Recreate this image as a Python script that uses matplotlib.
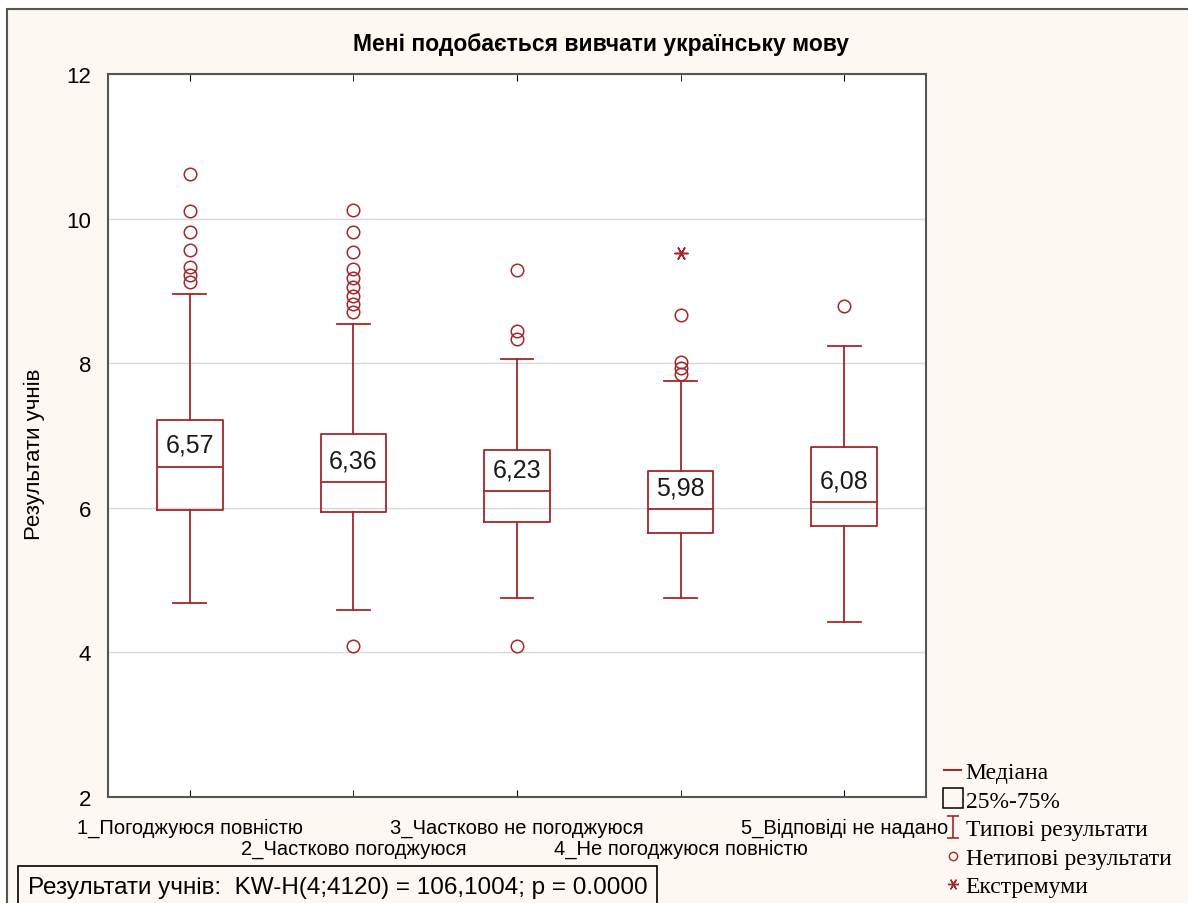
import matplotlib
matplotlib.use("Agg")
import matplotlib.pyplot as plt
from matplotlib.lines import Line2D
from matplotlib.patches import Rectangle
from matplotlib.path import Path

plt.rcParams['font.family'] = ['Liberation Sans', 'DejaVu Sans']

# дані
groups = ["1_Погоджуюся повністю", "2_Частково погоджуюся", "3_Частково не погоджуюся",
          "4_Не погоджуюся повністю", "5_Відповіді не надано"]
medians = [6.57, 6.36, 6.23, 5.98, 6.08]
q1 = [5.97, 5.94, 5.80, 5.65, 5.75]
q3 = [7.21, 7.02, 6.80, 6.51, 6.84]
whisk_lo = [4.68, 4.59, 4.75, 4.75, 4.42]
whisk_hi = [8.96, 8.54, 8.06, 7.75, 8.24]
outliers = [[10.62, 10.11, 9.81, 9.57, 9.33, 9.22, 9.12],
            [10.12, 9.81, 9.54, 9.30, 9.18, 9.05, 8.93, 8.82, 8.71, 4.09],
            [9.29, 8.45, 8.33, 4.09],
            [8.67, 8.02, 7.93, 7.85],
            [8.79]]
extremes = [[], [], [], [9.52], []]
yticks = [2, 4, 6, 8, 10, 12]

title = "Мені подобається вивчати українську мову"
ylabel = "Результати учнів"
stat_text = "Результати учнів:  KW-H(4;4120) = 106,1004; p = 0.0000"
legend_labels = ["Медіана", "25%-75%", "Типові результати", "Нетипові результати", "Екстремуми"]

red = '#a3262b'
cream = '#fdf9f2'

fig = plt.figure(figsize=(11.88, 9.04), dpi=100, facecolor='white')
# зовнішня рамка
fig.add_artist(Rectangle((7 / 1188, -0.1), 1.2, 1.1 - 10 / 904, transform=fig.transFigure,
                         facecolor=cream, edgecolor='#555555', lw=1.5, zorder=-10))

ax = fig.add_axes([108 / 1188, 106 / 904, 818 / 1188, 723 / 904])
ax.set_facecolor('white')

stats = []
for i in range(len(groups)):
    stats.append(dict(med=medians[i], q1=q1[i], q3=q3[i], whislo=whisk_lo[i],
                      whishi=whisk_hi[i], fliers=outliers[i]))

pos = list(range(1, len(groups) + 1))
ax.bxp(stats, positions=pos, widths=0.4, capwidths=0.2, showfliers=True,
       boxprops=dict(color=red, lw=1.3),
       medianprops=dict(color=red, lw=1.3),
       whiskerprops=dict(color=red, lw=1.3),
       capprops=dict(color=red, lw=1.3),
       flierprops=dict(marker='o', markerfacecolor='none', markeredgecolor=red,
                       markersize=9, markeredgewidth=1.1))

for i, ex in enumerate(extremes):
    if ex:
        ax.plot([pos[i]] * len(ex), ex, linestyle='none', marker=(6, 2, 90),
                color=red, markersize=10, markeredgewidth=1.1)

for i, m in enumerate(medians):
    ax.text(pos[i], m + 0.3, f"{m:.2f}".replace('.', ','), ha='center', va='center',
            fontsize=18, color='#1a1a1a')

ax.set_xlim(0.5, 5.5)
ax.set_ylim(2, 12)
ax.set_yticks(yticks)
ax.set_yticklabels([str(v) for v in yticks], fontsize=16)
# підписи категорій у два ряди
ax.set_xticks(pos[0::2])
ax.set_xticklabels(groups[0::2], fontsize=14.5)
ax.set_xticks(pos[1::2], minor=True)
ax.set_xticklabels(groups[1::2], minor=True, fontsize=14.5)
ax.tick_params(axis='x', which='both', direction='in', top=True, length=5)
ax.tick_params(axis='x', which='major', pad=15)
ax.tick_params(axis='x', which='minor', pad=30)
ax.tick_params(axis='y', direction='in', length=0, pad=12)
ax.yaxis.grid(True, color='#d9d9d9', lw=1)
ax.set_axisbelow(True)
for s in ax.spines.values():
    s.set_color('#555555')
    s.set_linewidth(1.5)

ax.set_ylabel(ylabel, fontsize=16)
ax.yaxis.set_label_coords(-0.077, 0.475)
fig.text(601 / 1188, 1 - 45 / 904, title, ha='center', va='center', fontsize=16.5, fontweight='bold')

fig.text(28 / 1188, 1 - 888 / 904, stat_text, ha='left', va='center', fontsize=17.5,
         bbox=dict(boxstyle='square,pad=0.4', facecolor=cream, edgecolor='black', lw=1.2))

# легенда
ibeam = Path([(-0.5, 1), (0.5, 1), (0, 1), (0, -1), (-0.5, -1), (0.5, -1)],
             [Path.MOVETO, Path.LINETO, Path.MOVETO, Path.LINETO, Path.MOVETO, Path.LINETO])
handles = [Line2D([], [], color=red, lw=1.5),
           Line2D([], [], linestyle='none', marker='s', markerfacecolor='none',
                  markeredgecolor='black', markersize=15, markeredgewidth=1.1),
           Line2D([], [], linestyle='none', marker=ibeam, color=red, markersize=16,
                  markeredgewidth=1.2),
           Line2D([], [], linestyle='none', marker='o', markerfacecolor='none',
                  markeredgecolor=red, markersize=6),
           Line2D([], [], linestyle='none', marker=(6, 2, 90), color=red, markersize=8)]
fig.legend(handles, legend_labels, loc='upper left', bbox_to_anchor=(935 / 1188, 1 - 753 / 904),
           frameon=False, prop=dict(family='Liberation Serif', size=17),
           handlelength=0.7, handletextpad=0.2, labelspacing=0.3, borderaxespad=0)

fig.savefig("out.png", dpi=100, facecolor=fig.get_facecolor())
